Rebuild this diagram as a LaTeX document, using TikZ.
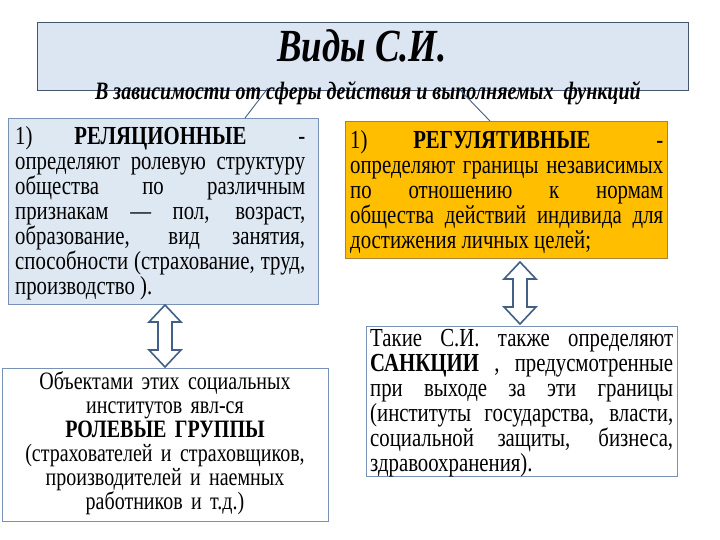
\documentclass[tikz,border=0pt]{standalone}
\usepackage{fontspec}
\setmainfont{Liberation Serif}[FakeStretch=0.8]
\definecolor{titlefill}{RGB}{220,230,242}
\definecolor{titleline}{RGB}{70,85,110}
\definecolor{bluefill}{RGB}{222,232,243}
\definecolor{blueline}{RGB}{120,145,180}
\definecolor{orfill}{RGB}{255,190,0}
\definecolor{orline}{RGB}{170,130,60}
\definecolor{arrline}{RGB}{65,95,135}
\tikzset{
  box/.style={draw, line width=0.8pt, inner sep=0pt},
  body/.style={anchor=north west, inner sep=0pt, align=justify, font=\fontsize{26}{25}\selectfont},
  dblarr/.style={draw=arrline, line width=1.6pt, fill=white, line join=miter},
  link/.style={draw=arrline, line width=0.9pt}
}
\begin{document}
\begin{tikzpicture}[x=1pt,y=-1pt]
\useasboundingbox (0,0) rectangle (720,540);
\fill[white] (0,0) rectangle (720,540);
% title
\draw[box, fill=titlefill, draw=titleline] (37,22) rectangle (688,90);
\node (title) at (362,46) {\fontsize{46}{46}\selectfont\bfseries\itshape Виды С.И.};
\node (sub) at (368,93) {\fontsize{25}{25}\selectfont\bfseries\itshape В зависимости от сферы действия и выполняемых\ \ функций};
% left box
\draw[box, fill=bluefill, draw=blueline] (8,118) rectangle (318,304);
\coordinate (lt) at (245,118);
\coordinate (rt) at (490,121);
\coordinate (ls) at (268,88);
\coordinate (rs) at (460,90);
\draw[link] (ls) -- (lt);
\draw[link] (rs) -- (rt);
\node[body, text width=290pt] (ltext) at (15,126) {%
\makebox[290pt][s]{1)\hfill\textbf{РЕЛЯЦИОННЫЕ}\hfill\hspace*{10pt}-}\\
определяют ролевую структуру общества по различным признакам — пол, возраст, образование, вид занятия, способности (страхование, труд, производство~).};
% right box
\draw[box, fill=orfill, draw=orline] (345,121) rectangle (667,258);
\node[body, text width=313pt] (rtext) at (350,130) {%
\makebox[313pt][s]{1)\hfill\textbf{РЕГУЛЯТИВНЫЕ}\hfill\hspace*{20pt}-}\\
определяют границы независимых по отношению к нормам общества действий индивида для достижения личных целей;};
% bottom left
\draw[box, fill=white, draw=blueline] (2,368) rectangle (328,521);
\node[anchor=north, inner sep=0pt, align=center, text width=320pt, font=\fontsize{25}{24}\selectfont] (bl) at (165,371) {Объектами этих социальных\\ институтов явл-ся\\ \textbf{РОЛЕВЫЕ ГРУППЫ}\\ (страхователей и страховщиков,\\ производителей и наемных\\ работников и т.д.)};
% bottom right
\draw[box, fill=white, draw=blueline] (366,326) rectangle (677,476);
\node[body, text width=303pt] (br) at (370,329) {Такие С.И. также определяют \textbf{САНКЦИИ} , предусмотренные при выходе за эти границы (институты государства, власти, социальной защиты, бизнеса, здравоохранения).};
% double arrows
\draw[dblarr] (165,305) -- (181,322) -- (172,322) -- (172,350) -- (181,350) -- (165,367) -- (149,350) -- (158,350) -- (158,322) -- (149,322) -- cycle;
\draw[dblarr] (520,262) -- (536,279) -- (527,279) -- (527,307) -- (536,307) -- (520,324) -- (504,307) -- (513,307) -- (513,279) -- (504,279) -- cycle;
\end{tikzpicture}
\end{document}
